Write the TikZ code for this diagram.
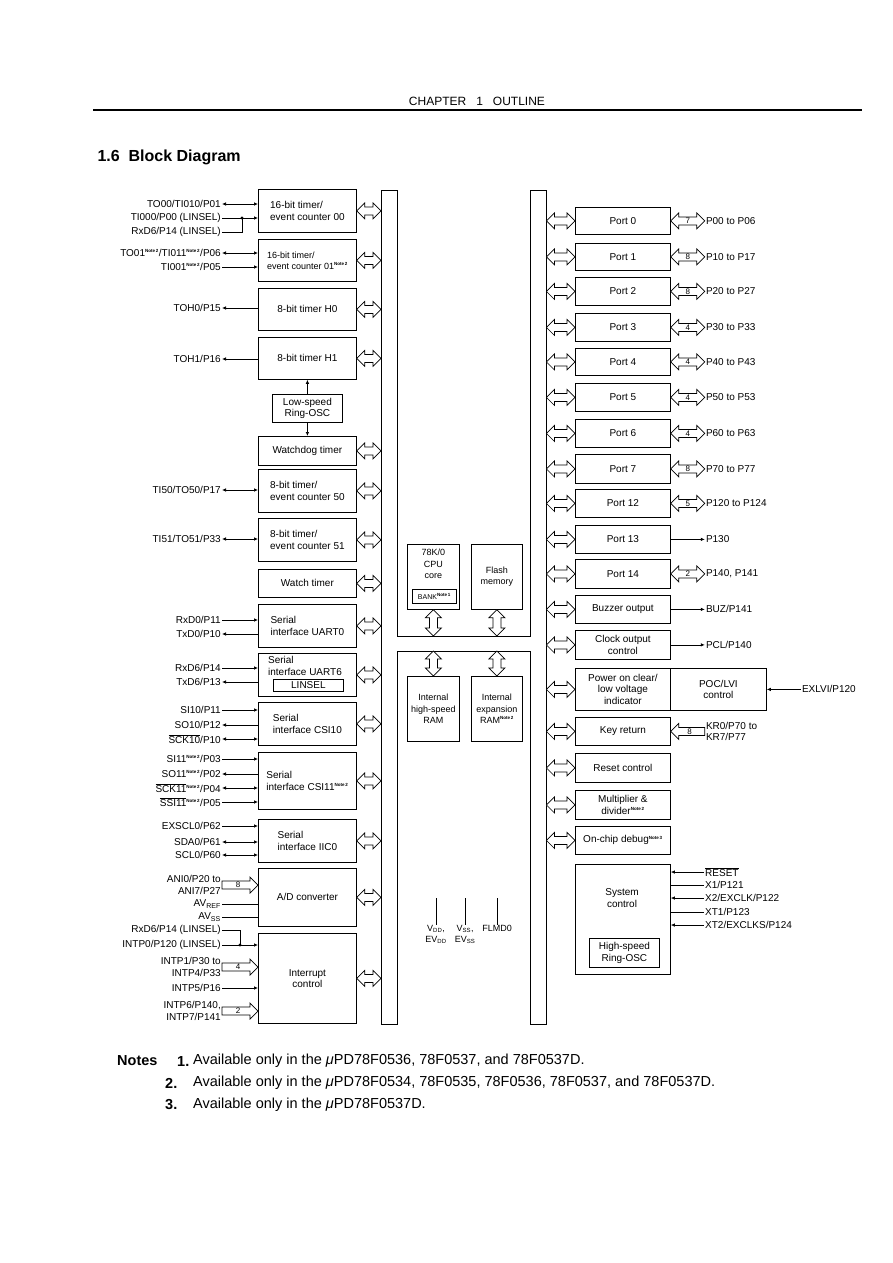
\documentclass[tikz,border=0pt]{standalone}
\usepackage{fontspec}
\setmainfont{Liberation Sans}
\usepackage{tikz}
\usetikzlibrary{arrows.meta,calc,positioning}
\newcommand{\lblfont}{\fontsize{10}{11.5}\selectfont}
\newcommand{\ctrfont}{\fontsize{9}{11.5}\selectfont}
\newcommand{\smlfont}{\fontsize{9}{11}\selectfont}
\newcommand{\notefont}{\fontsize{14.5}{17}\selectfont}
\newcommand{\NoteSup}[1]{\textsuperscript{\fontsize{4.5}{5}\selectfont\bfseries Note\,#1}}
\newcommand{\ovl}[1]{$\overline{\mbox{#1}}$}
\tikzset{
  blk/.style={draw, line width=0.8pt, anchor=north west, inner sep=1pt, align=center, font=\lblfont},
  lblk/.style={blk, minimum width=98},
  rblk/.style={blk, minimum width=95},
  txt/.style={inner sep=0pt, align=center, font=\lblfont},
  lblL/.style={anchor=east, inner sep=1pt, align=right, font=\lblfont},
  lblR/.style={anchor=west, inner sep=1pt, align=left, font=\lblfont},
  notetxt/.style={anchor=west, inner sep=0pt, font=\notefont},
  sig/.style={line width=0.7pt},
  sarr/.style={sig, -{Latex[length=4pt,width=3.5pt]}},
  sbi/.style={sig, {Latex[length=4pt,width=3.5pt]}-{Latex[length=4pt,width=3.5pt]}},
  bnum/.style={inner sep=0pt, font=\fontsize{8}{8}\selectfont},
  hbus/.style={line width=0.7pt, fill=white, to path={let \p1=(\tikztostart), \p2=(\tikztotarget),
    \p3=($(\p1)!8pt!(\p2)$), \p4=($(\p2)!8pt!(\p1)$) in
    (\x1,\y1) -- (\x3,\y1+8pt) -- (\x3,\y1+4pt) -- (\x4,\y1+4pt) -- (\x4,\y1+8pt) -- (\x2,\y1)
    -- (\x4,\y1-8pt) -- (\x4,\y1-4pt) -- (\x3,\y1-4pt) -- (\x3,\y1-8pt) -- cycle}},
  vbus/.style={line width=0.7pt, fill=white, to path={let \p1=(\tikztostart), \p2=(\tikztotarget),
    \p3=($(\p1)!8pt!(\p2)$), \p4=($(\p2)!8pt!(\p1)$) in
    (\x1,\y1) -- (\x1+8pt,\y3) -- (\x1+4pt,\y3) -- (\x1+4pt,\y4) -- (\x1+8pt,\y4) -- (\x1,\y2)
    -- (\x1-8pt,\y4) -- (\x1-4pt,\y4) -- (\x1-4pt,\y3) -- (\x1-8pt,\y3) -- cycle}},
  bus1/.style={line width=0.7pt, fill=white, to path={let \p1=(\tikztostart), \p2=(\tikztotarget),
    \p4=($(\p2)!8pt!(\p1)$) in
    (\x1,\y1+4pt) -- (\x4,\y1+4pt) -- (\x4,\y1+8pt) -- (\x2,\y1) -- (\x4,\y1-8pt) -- (\x4,\y1-4pt)
    -- (\x1,\y1-4pt) -- cycle}}
}
\begin{document}
\begin{tikzpicture}[x=1pt,y=-1pt]
\fill[white] (0,0) rectangle (893,1263);
\useasboundingbox (0,0) rectangle (893,1263);
% page head
\node[font=\fontsize{12}{14}\selectfont] (chap) at (477,101) {CHAPTER\ \ \ 1\ \ \ OUTLINE};
\draw[line width=1.5pt] (93,110) -- (862,110);
\node[anchor=west, font=\fontsize{16}{19}\selectfont\bfseries] (title) at (94,157) {1.6\ \ Block Diagram};
% internal bus
\node[anchor=north west, minimum width=16, minimum height=834, inner sep=0pt] (lbar) at (381,190) {};
\node[anchor=north west, minimum width=16, minimum height=834, inner sep=0pt] (rbar) at (530,190) {};
\coordinate (xtop) at (0,636); \coordinate (xbot) at (0,651);
\draw[line width=0.8pt] (lbar.north west) -- (lbar.north east) -- (lbar.north east |- xtop) -- (rbar.north west |- xtop)
  -- (rbar.north west) -- (rbar.north east) -- (rbar.south east) -- (rbar.south west) -- (rbar.south west |- xbot)
  -- (lbar.south east |- xbot) -- (lbar.south east) -- (lbar.south west) -- cycle;
% left blocks
\node[lblk, minimum height=43, align=left] (t00) at (258,189) {16-bit timer/\\event counter 00};
\node[lblk, minimum height=42, align=left, font=\smlfont] (t01) at (258,239) {16-bit timer/\\event counter 01\NoteSup{2}};
\node[lblk, minimum height=42] (th0) at (258,288) {8-bit timer H0};
\node[lblk, minimum height=42] (th1) at (258,337) {8-bit timer H1};
\node[blk, minimum width=70, minimum height=28] (losc) at (272,394) {Low-speed\\Ring-OSC};
\node[lblk, minimum height=29] (wdt) at (258,436) {Watchdog timer};
\node[lblk, minimum height=43, align=left] (t50) at (258,469) {8-bit timer/\\event counter 50};
\node[lblk, minimum height=43, align=left] (t51) at (258,518) {8-bit timer/\\event counter 51};
\node[lblk, minimum height=28] (wt) at (258,569) {Watch timer};
\node[lblk, minimum height=43, align=left] (uart0) at (258,604) {Serial\\interface UART0};
\node[lblk, minimum height=43] (uart6) at (258,653) {};
\node[txt, align=left] (u6txt) at (305,666) {Serial\\interface UART6};
\node[blk, minimum width=70, minimum height=12, inner sep=0pt] (linsel) at (273,679) {LINSEL};
\node[lblk, minimum height=43, align=left] (csi10) at (258,702) {Serial\\interface CSI10};
\node[lblk, minimum height=57, align=left] (csi11) at (258,752) {Serial\\interface CSI11\NoteSup{2}};
\node[lblk, minimum height=43, align=left] (iic0) at (258,819) {Serial\\interface IIC0};
\node[lblk, minimum height=58] (adc) at (258,868) {A/D converter};
\node[lblk, minimum height=90] (intc) at (258,933) {Interrupt\\control};
% centre blocks
\node[blk, minimum width=52, minimum height=65] (cpu) at (407,544) {};
\node[txt, font=\ctrfont, below=5pt of cpu.north] (cputxt) {78K/0\\CPU\\core};
\node[blk, minimum width=44, minimum height=14, inner sep=0pt, font=\fontsize{7}{8}\selectfont] (bank) at (412,589) {BANK\NoteSup{1}};
\node[blk, minimum width=51, minimum height=65, font=\ctrfont] (flash) at (471,544) {Flash\\memory};
\node[blk, minimum width=52, minimum height=65, font=\ctrfont] (hram) at (407,676) {Internal\\high-speed\\RAM};
\node[blk, minimum width=51, minimum height=65, font=\ctrfont] (xram) at (471,676) {Internal\\expansion\\RAM\NoteSup{2}};
\node[txt, anchor=north, font=\ctrfont] (vdd) at (436,925) {V\textsubscript{DD},\\EV\textsubscript{DD}};
\node[txt, anchor=north, font=\ctrfont] (vss) at (465,925) {V\textsubscript{SS},\\EV\textsubscript{SS}};
\node[txt, anchor=north, font=\ctrfont] (flmd) at (497,925) {FLMD0};
\coordinate (vddt) at (436,898); \coordinate (vsst) at (465,898); \coordinate (flmdt) at (497,898);
% right blocks
\node[rblk, minimum height=27] (p0) at (575,207) {Port 0};
\node[rblk, minimum height=27] (p1) at (575,243) {Port 1};
\node[rblk, minimum height=28] (p2) at (575,277) {Port 2};
\node[rblk, minimum height=28] (p3) at (575,313) {Port 3};
\node[rblk, minimum height=27] (p4) at (575,348) {Port 4};
\node[rblk, minimum height=28] (p5) at (575,383) {Port 5};
\node[rblk, minimum height=28] (p6) at (575,419) {Port 6};
\node[rblk, minimum height=29] (p7) at (575,454) {Port 7};
\node[rblk, minimum height=28] (p12) at (575,489) {Port 12};
\node[rblk, minimum height=28] (p13) at (575,525) {Port 13};
\node[rblk, minimum height=29] (p14) at (575,559) {Port 14};
\node[rblk, minimum height=28] (buz) at (575,595) {Buzzer output};
\node[rblk, minimum height=29] (clk) at (575,630) {Clock output\\control};
\node[rblk, minimum height=42] (poc) at (575,668) {Power on clear/\\low voltage\\indicator};
\node[blk, minimum width=96, minimum height=42] (lvi) at (670,668) {POC/LVI\\control};
\node[rblk, minimum height=28] (key) at (575,717) {Key return};
\node[rblk, minimum height=29] (rst) at (575,753) {Reset control};
\node[rblk, minimum height=29] (mul) at (575,790) {Multiplier \&\\divider\NoteSup{2}};
\node[rblk, minimum height=28] (dbg) at (575,826) {On-chip debug\NoteSup{3}};
\node[rblk, minimum height=110] (sys) at (575,864) {};
\node[txt] (systxt) at (622,898) {System\\control};
\node[blk, minimum width=70, minimum height=29] (hosc) at (589,938) {High-speed\\Ring-OSC};
% left pin labels
\node[lblL] (to00) at (222,204) {TO00/TI010/P01};
\node[lblL] (ti000) at (222,218) {TI000/P00 (LINSEL)};
\node[lblL] (rx6a) at (222,232) {RxD6/P14 (LINSEL)};
\node[lblL] (to01) at (222,253) {TO01\NoteSup{2}/TI011\NoteSup{2}/P06};
\node[lblL] (ti001) at (222,267) {TI001\NoteSup{2}/P05};
\node[lblL] (toh0) at (222,308) {TOH0/P15};
\node[lblL] (toh1) at (222,359) {TOH1/P16};
\node[lblL] (ti50) at (222,490) {TI50/TO50/P17};
\node[lblL] (ti51) at (222,539) {TI51/TO51/P33};
\node[lblL] (rxd0) at (222,620) {RxD0/P11};
\node[lblL] (txd0) at (222,634) {TxD0/P10};
\node[lblL] (rxd6) at (222,668) {RxD6/P14};
\node[lblL] (txd6) at (222,682) {TxD6/P13};
\node[lblL] (si10) at (222,710) {SI10/P11};
\node[lblL] (so10) at (222,725) {SO10/P12};
\node[lblL] (sck10) at (222,739) {\ovl{SCK10}/P10};
\node[lblL] (si11) at (222,759) {SI11\NoteSup{2}/P03};
\node[lblL] (so11) at (222,774) {SO11\NoteSup{2}/P02};
\node[lblL] (sck11) at (222,788) {\ovl{SCK11}\NoteSup{2}/P04};
\node[lblL] (ssi11) at (222,802) {\ovl{SSI11}\NoteSup{2}/P05};
\node[lblL] (exscl) at (222,826) {EXSCL0/P62};
\node[lblL] (sda0) at (222,842) {SDA0/P61};
\node[lblL] (scl0) at (222,855) {SCL0/P60};
\node[lblL] (ani) at (222,885) {ANI0/P20 to\\ANI7/P27};
\node[lblL] (avref) at (222,904) {AV\textsubscript{REF}};
\node[lblL] (avss) at (222,917) {AV\textsubscript{SS}};
\node[lblL] (rx6b) at (222,930) {RxD6/P14 (LINSEL)};
\node[lblL] (intp0) at (222,945) {INTP0/P120 (LINSEL)};
\node[lblL] (intp14) at (222,967) {INTP1/P30 to\\INTP4/P33};
\node[lblL] (intp5) at (222,988) {INTP5/P16};
\node[lblL] (intp67) at (222,1011) {INTP6/P140,\\INTP7/P141};
% right pin labels
\node[lblR, right=34pt of p0.east] (p0l) {P00 to P06};
\node[lblR, right=34pt of p1.east] (p1l) {P10 to P17};
\node[lblR, right=34pt of p2.east] (p2l) {P20 to P27};
\node[lblR, right=34pt of p3.east] (p3l) {P30 to P33};
\node[lblR, right=34pt of p4.east] (p4l) {P40 to P43};
\node[lblR, right=34pt of p5.east] (p5l) {P50 to P53};
\node[lblR, right=34pt of p6.east] (p6l) {P60 to P63};
\node[lblR, right=34pt of p7.east] (p7l) {P70 to P77};
\node[lblR, right=34pt of p12.east] (p12l) {P120 to P124};
\node[lblR, right=34pt of p13.east] (p13l) {P130};
\node[lblR, right=34pt of p14.east] (p14l) {P140, P141};
\node[lblR, right=34pt of buz.east] (buzl) {BUZ/P141};
\node[lblR, right=34pt of clk.east] (clkl) {PCL/P140};
\node[lblR, right=34pt of lvi.east] (exlvi) {EXLVI/P120};
\node[lblR, right=34pt of key.east] (krl) {KR0/P70 to\\KR7/P77};
\node[lblR] (rstl) at (704,872) {\ovl{RESET}};
\node[lblR] (x1l) at (704,885) {X1/P121};
\node[lblR] (x2l) at (704,898) {X2/EXCLK/P122};
\node[lblR] (xt1l) at (704,912) {XT1/P123};
\node[lblR] (xt2l) at (704,925) {XT2/EXCLKS/P124};
% bus arrows, left side
\draw[hbus] (t00.east) to (t00.east -| lbar.west); \draw[hbus] (t01.east) to (t01.east -| lbar.west);
\draw[hbus] (th0.east) to (th0.east -| lbar.west); \draw[hbus] (th1.east) to (th1.east -| lbar.west);
\draw[hbus] (wdt.east) to (wdt.east -| lbar.west); \draw[hbus] (t50.east) to (t50.east -| lbar.west);
\draw[hbus] (t51.east) to (t51.east -| lbar.west); \draw[hbus] (wt.east) to (wt.east -| lbar.west);
\draw[hbus] (uart0.east) to (uart0.east -| lbar.west); \draw[hbus] (uart6.east) to (uart6.east -| lbar.west);
\draw[hbus] (csi10.east) to (csi10.east -| lbar.west); \draw[hbus] (csi11.east) to (csi11.east -| lbar.west);
\draw[hbus] (iic0.east) to (iic0.east -| lbar.west); \draw[hbus] (adc.east) to (adc.east -| lbar.west);
\draw[hbus] (intc.east) to (intc.east -| lbar.west);
% bus arrows, right side
\draw[hbus] (p0.west -| rbar.east) to (p0.west); \draw[hbus] (p1.west -| rbar.east) to (p1.west);
\draw[hbus] (p2.west -| rbar.east) to (p2.west); \draw[hbus] (p3.west -| rbar.east) to (p3.west);
\draw[hbus] (p4.west -| rbar.east) to (p4.west); \draw[hbus] (p5.west -| rbar.east) to (p5.west);
\draw[hbus] (p6.west -| rbar.east) to (p6.west); \draw[hbus] (p7.west -| rbar.east) to (p7.west);
\draw[hbus] (p12.west -| rbar.east) to (p12.west); \draw[hbus] (p13.west -| rbar.east) to (p13.west);
\draw[hbus] (p14.west -| rbar.east) to (p14.west); \draw[hbus] (buz.west -| rbar.east) to (buz.west);
\draw[hbus] (clk.west -| rbar.east) to (clk.west); \draw[hbus] (poc.west -| rbar.east) to (poc.west);
\draw[hbus] (key.west -| rbar.east) to (key.west); \draw[hbus] (rst.west -| rbar.east) to (rst.west);
\draw[hbus] (mul.west -| rbar.east) to (mul.west); \draw[hbus] (dbg.west -| rbar.east) to (dbg.west);
% centre bus arrows and power pins
\draw[vbus] (cpu.south) to (cpu.south |- xtop); \draw[vbus] (flash.south) to (flash.south |- xtop);
\draw[vbus] (hram.north |- xbot) to (hram.north); \draw[vbus] (xram.north |- xbot) to (xram.north);
\draw[sig] (vddt) -- (vdd.north); \draw[sig] (vsst) -- (vss.north); \draw[sig] (flmdt) -- (flmd.north);
% port buses
\draw[hbus] (p0.east) to (p0l.west); \draw[hbus] (p1.east) to (p1l.west); \draw[hbus] (p2.east) to (p2l.west);
\draw[hbus] (p3.east) to (p3l.west); \draw[hbus] (p4.east) to (p4l.west); \draw[hbus] (p5.east) to (p5l.west);
\draw[hbus] (p6.east) to (p6l.west); \draw[hbus] (p7.east) to (p7l.west); \draw[hbus] (p12.east) to (p12l.west);
\draw[hbus] (p14.east) to (p14l.west);
\node[bnum] at ($(p0.east)!.5!(p0l.west)$) {7}; \node[bnum] at ($(p1.east)!.5!(p1l.west)$) {8};
\node[bnum] at ($(p2.east)!.5!(p2l.west)$) {8}; \node[bnum] at ($(p3.east)!.5!(p3l.west)$) {4};
\node[bnum] at ($(p4.east)!.5!(p4l.west)$) {4}; \node[bnum] at ($(p5.east)!.5!(p5l.west)$) {4};
\node[bnum] at ($(p6.east)!.5!(p6l.west)$) {4}; \node[bnum] at ($(p7.east)!.5!(p7l.west)$) {8};
\node[bnum] at ($(p12.east)!.5!(p12l.west)$) {5}; \node[bnum] at ($(p14.east)!.5!(p14l.west)$) {2};
\draw[sarr] (p13.east) -- (p13l.west); \draw[sarr] (buz.east) -- (buzl.west); \draw[sarr] (clk.east) -- (clkl.west);
\draw[sarr] (exlvi.west) -- (lvi.east);
\draw[bus1] (krl.west) to (key.east); \node[bnum] at ($(krl.west)!.45!(key.east)$) {8};
\draw[sarr] (rstl.west) -- (rstl.west -| sys.east); \draw[sig] (x1l.west) -- (x1l.west -| sys.east);
\draw[sarr] (x2l.west) -- (x2l.west -| sys.east); \draw[sig] (xt1l.west) -- (xt1l.west -| sys.east);
\draw[sarr] (xt2l.west) -- (xt2l.west -| sys.east);
% left pins
\coordinate (j1) at (242,218); \coordinate (j2) at (240,945);
\draw[sbi] (to00.east) -- (to00.east -| t00.west); \draw[sarr] (ti000.east) -- (ti000.east -| t00.west);
\draw[sig] (rx6a.east) -| (j1); \fill (j1) circle (1.6pt);
\draw[sbi] (to01.east) -- (to01.east -| t01.west); \draw[sarr] (ti001.east) -- (ti001.east -| t01.west);
\draw[sarr] (toh0.east -| th0.west) -- (toh0.east); \draw[sarr] (toh1.east -| th1.west) -- (toh1.east);
\draw[sarr] (th1.south |- losc.north) -- (th1.south); \draw[sarr] (losc.south) -- (losc.south |- wdt.north);
\draw[sbi] (ti50.east) -- (ti50.east -| t50.west); \draw[sbi] (ti51.east) -- (ti51.east -| t51.west);
\draw[sarr] (rxd0.east) -- (rxd0.east -| uart0.west); \draw[sarr] (txd0.east -| uart0.west) -- (txd0.east);
\draw[sarr] (rxd6.east) -- (rxd6.east -| uart6.west); \draw[sarr] (txd6.east -| uart6.west) -- (txd6.east);
\draw[sarr] (si10.east) -- (si10.east -| csi10.west); \draw[sarr] (so10.east -| csi10.west) -- (so10.east);
\draw[sbi] (sck10.east) -- (sck10.east -| csi10.west);
\draw[sarr] (si11.east) -- (si11.east -| csi11.west); \draw[sarr] (so11.east -| csi11.west) -- (so11.east);
\draw[sbi] (sck11.east) -- (sck11.east -| csi11.west); \draw[sarr] (ssi11.east) -- (ssi11.east -| csi11.west);
\draw[sarr] (exscl.east) -- (exscl.east -| iic0.west); \draw[sbi] (sda0.east) -- (sda0.east -| iic0.west);
\draw[sbi] (scl0.east) -- (scl0.east -| iic0.west);
\draw[bus1] (ani.east) to (ani.east -| adc.west); \node[bnum] at ($(ani.east)!.45!(ani.east -| adc.west)$) {8};
\draw[sig] (avref.east) -- (avref.east -| adc.west); \draw[sig] (avss.east) -- (avss.east -| adc.west);
\draw[sig] (rx6b.east) -| (j2); \fill (j2) circle (1.6pt);
\draw[sarr] (intp0.east) -- (intp0.east -| intc.west);
\draw[bus1] (intp14.east) to (intp14.east -| intc.west); \node[bnum] at ($(intp14.east)!.45!(intp14.east -| intc.west)$) {4};
\draw[sarr] (intp5.east) -- (intp5.east -| intc.west);
\draw[bus1] (intp67.east) to (intp67.east -| intc.west); \node[bnum] at ($(intp67.east)!.45!(intp67.east -| intc.west)$) {2};
% notes
\node[notetxt, font=\notefont\bfseries] (notes) at (117,1061) {Notes};
\node[notetxt, font=\notefont\bfseries] (n1) at (177,1061) {1.};
\node[notetxt, font=\notefont\bfseries] (n2) at (165,1083) {2.};
\node[notetxt, font=\notefont\bfseries] (n3) at (165,1105) {3.};
\node[notetxt] (n1t) at (193,1061) {Available only in the \textit{μ}PD78F0536, 78F0537, and 78F0537D.};
\node[notetxt] (n2t) at (193,1083) {Available only in the \textit{μ}PD78F0534, 78F0535, 78F0536, 78F0537, and 78F0537D.};
\node[notetxt] (n3t) at (193,1105) {Available only in the \textit{μ}PD78F0537D.};
\end{tikzpicture}
\end{document}
